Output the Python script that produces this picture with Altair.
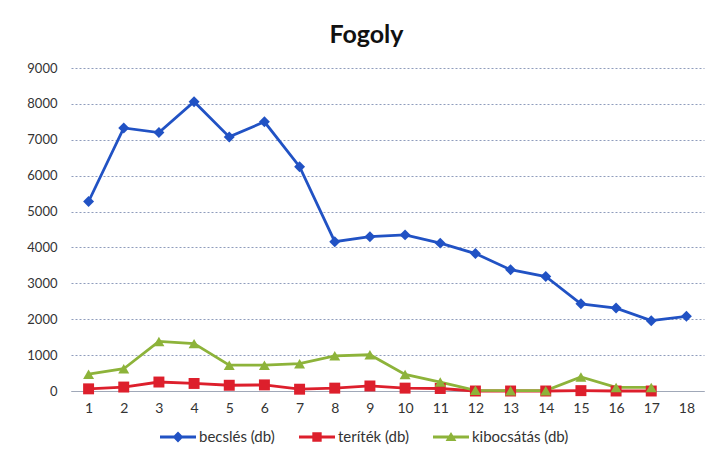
import altair as alt
import pandas as pd

years = list(range(1, 19))
series = ["becslés (db)", "teríték (db)", "kibocsátás (db)"]
becsles = [5280, 7330, 7200, 8060, 7080, 7500, 6250, 4160, 4300, 4350, 4120, 3830, 3380, 3190, 2430, 2310, 1960, 2080]
teritek = [60, 110, 250, 210, 160, 170, 50, 80, 140, 80, 70, 0, 0, 0, 10, 0, 0, None]
kibocsatas = [470, 620, 1380, 1320, 720, 720, 760, 980, 1010, 460, 250, 20, 10, 10, 390, 100, 100, None]
y_ticks = list(range(0, 9001, 1000))
colors = ["#2152c4", "#dd1f2c", "#8db33a"]

rows = []
for name, vals in zip(series, [becsles, teritek, kibocsatas]):
    for x, v in zip(years, vals):
        if v is not None:
            rows.append({"x": x, "v": v, "s": name})
df = pd.DataFrame(rows)

font = "Lato"

xenc = alt.X("x:O", sort=years, scale=alt.Scale(type="point", padding=0.5),
             axis=alt.Axis(title=None, labelAngle=0, ticks=False, domain=True,
                           domainColor="#a0a8b8", labelPadding=10, grid=False,
                           labelFont=font, labelFontSize=14, labelColor="#333"))
yenc = alt.Y("v:Q", scale=alt.Scale(domain=[0, 9000], nice=False),
             axis=alt.Axis(title=None, values=y_ticks, format="d", ticks=False, domain=False,
                           labelPadding=14, grid=True, gridColor="#8f9cbc",
                           gridDash=[2, 2], gridWidth=1, labelFont=font,
                           labelFontSize=13, labelColor="#333"))

def cscale():
    return alt.Scale(domain=series, range=colors)

base = alt.Chart(df).encode(x=xenc, y=yenc)

lines = base.mark_line(strokeWidth=2.8).encode(
    color=alt.Color("s:N", scale=cscale(), legend=None),
    detail="s:N",
)

points = base.mark_point(filled=True, opacity=1, size=120).encode(
    color=alt.Color("s:N", scale=cscale(), legend=None),
    shape=alt.Shape("s:N", scale=alt.Scale(domain=series, range=["diamond", "square", "triangle-up"]), legend=None),
)

leg_paths = [
    "M-1,-0.08H1V0.08H-1Z M0,-0.3L0.3,0L0,0.3L-0.3,0Z",
    "M-1,-0.08H1V0.08H-1Z M-0.26,-0.26H0.26V0.26H-0.26Z",
    "M-1,-0.08H1V0.08H-1Z M0,-0.28L0.3,0.22L-0.3,0.22Z",
]
leg = alt.Legend(title=None, orient="none", legendX=89, legendY=351, direction="horizontal",
                 labelFont=font, labelFontSize=15, labelColor="#333", symbolSize=1296,
                 labelOffset=3, columnPadding=24, symbolStrokeWidth=0, symbolOpacity=1)

legend_layer = base.mark_point(filled=True, opacity=0, size=10).encode(
    color=alt.Color("s:N", scale=cscale(), legend=leg),
    shape=alt.Shape("s:N", scale=alt.Scale(domain=series, range=leg_paths), legend=leg),
)

chart = alt.layer(lines, points, legend_layer).resolve_scale(
    color="independent", shape="independent"
).properties(
    width=633, height=323,
    title=alt.TitleParams("Fogoly", font=font, fontSize=25, fontWeight="bold",
                          color="#111", anchor="middle", dx=-21, offset=14),
    autosize=alt.AutoSizeParams(type="none"),
    padding={"left": 63, "top": 60, "right": 3, "bottom": 55},
    background="white",
).configure_view(stroke=None)

chart.save("out.html", embed_options={"renderer": "svg", "actions": False})
